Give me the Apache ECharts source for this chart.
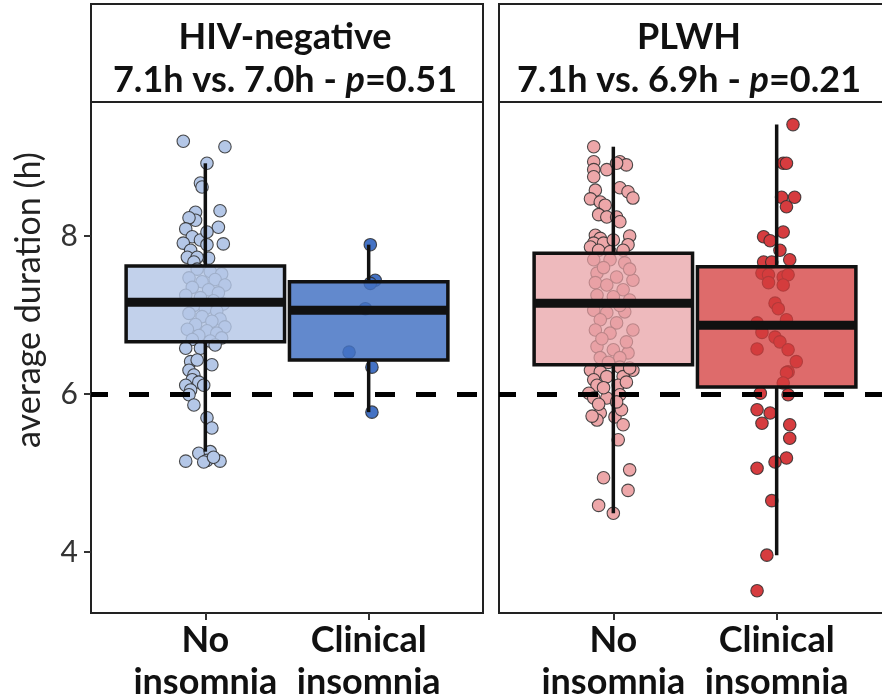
<!DOCTYPE html>
<html>
<head>
<meta charset="utf-8">
<script src="https://cdn.jsdelivr.net/npm/echarts@6/dist/echarts.min.js"></script>
<style>
  html, body { margin: 0; padding: 0; background: #ffffff; }
  #chart { width: 882px; height: 694px; }
</style>
</head>
<body>
<div id="chart"></div>
<script>
// ---- data ----------------------------------------------------------------
const categories = ['No\ninsomnia', 'Clinical\ninsomnia'];
const panelNames = ['HIV-negative', 'PLWH'];
const panelComparisons = [
  ['7.1h vs. 7.0h - ', 'p', '=0.51'],
  ['7.1h vs. 6.9h - ', 'p', '=0.21']
];
const yTickValues = [4, 6, 8];
const referenceHours = 6;

// box summaries: [lower whisker, Q1, median, Q3, upper whisker]
const boxNegNone     = [5.27, 6.66, 7.16, 7.62, 8.92];
const boxNegClinical = [5.77, 6.43, 7.06, 7.42, 7.89];
const boxPosNone     = [4.49, 6.37, 7.15, 7.78, 9.13];
const boxPosClinical = [3.96, 6.09, 6.87, 7.61, 9.41];

// individual average sleep durations (h) and their horizontal jitter (category units)
const negNoneHours = [9.20, 9.13, 8.92, 8.67, 8.62, 8.30, 8.32, 8.20, 8.23, 8.09, 8.11, 7.99, 7.95, 7.91, 8.05, 7.90, 7.89, 7.82, 7.73, 7.72, 7.73, 7.67,
  7.58, 7.55, 7.52, 7.47, 7.45, 7.42, 7.38, 7.35, 7.32, 7.28, 7.25, 7.22, 7.18, 7.14, 7.12, 7.08, 7.05, 7.02, 6.98, 6.95, 6.92, 6.88, 6.85, 6.82, 6.80, 6.77, 6.74, 6.71, 6.69, 6.67,
  6.58, 6.58, 6.62, 6.41, 6.43, 6.37, 6.30, 6.24, 6.18, 6.15, 6.11, 6.11, 6.05, 5.99, 5.86, 5.70, 5.57, 5.25, 5.27, 5.16, 5.15, 5.14, 5.20, 5.15];
const negNoneJitter = [-0.135, 0.12, 0.01, -0.03, -0.02, -0.06, 0.09, -0.06, -0.10, -0.12, 0.08, -0.08, -0.03, -0.135, 0.01, 0.11, 0.01, -0.09, -0.11, 0.02, -0.05, -0.07,
  -0.05, 0.03, 0.10, -0.10, 0.06, -0.02, 0.12, -0.08, 0.02, 0.08, -0.12, -0.03, 0.05, 0.11, -0.07, 0.00, 0.07, -0.10, -0.02, 0.09, 0.04, -0.06, 0.12, -0.11, 0.01, 0.07, -0.04, 0.10, -0.08, 0.03,
  -0.12, -0.03, 0.06, -0.09, -0.05, 0.04, -0.10, -0.07, -0.08, -0.04, -0.12, -0.01, -0.09, -0.10, -0.07, 0.01, 0.04, -0.04, 0.03, 0.01, 0.09, -0.01, 0.05, -0.12];

const negClinicalHours  = [7.89, 7.44, 7.40, 7.08, 6.53, 6.34, 5.77];
const negClinicalJitter = [0.01, 0.04, 0.01, -0.02, -0.12, 0.02, 0.02];

const posNoneHours = [9.13, 8.94, 8.84, 8.75, 8.84, 8.94, 8.90, 8.92, 8.58, 8.47, 8.61, 8.56, 8.48, 8.43, 8.39, 8.27, 8.24, 8.24, 8.18, 8.01, 7.97, 7.91, 7.91, 7.95, 8.00, 7.89, 7.86, 7.82, 7.82, 7.80,
  7.70, 7.70, 7.66, 7.53, 7.48, 7.44, 7.41, 7.38, 7.32, 7.25, 7.23, 7.19, 7.06, 7.03, 7.04, 6.94, 6.90, 6.81, 6.81, 6.77, 6.60, 6.56, 6.52, 6.46, 6.46, 7.60, 7.58, 7.12, 6.70, 6.66, 6.40,
  6.30, 6.28, 6.34, 6.30, 6.18, 6.22, 6.22, 6.11, 6.11, 6.01, 5.99, 5.95, 5.95, 6.33, 5.76, 5.67, 5.71, 5.61, 5.42, 5.04, 4.94, 4.78, 4.59, 4.49, 6.08, 6.15, 5.87, 5.80, 5.72, 5.90];
const posNoneJitter = [-0.12, -0.12, -0.12, -0.12, -0.04, 0.04, 0.08, 0.02, -0.11, -0.14, 0.04, 0.09, 0.12, -0.08, -0.05, -0.09, -0.04, 0.02, 0.04, -0.11, -0.08, -0.12, -0.06, 0.00, 0.10, 0.09, -0.14, 0.06, -0.09, -0.02,
  -0.12, -0.02, 0.07, -0.10, 0.02, 0.12, -0.11, -0.04, 0.06, -0.10, 0.00, 0.10, -0.12, -0.04, 0.07, -0.08, 0.02, 0.12, -0.11, -0.02, -0.10, 0.00, 0.09, -0.08, 0.04, -0.06, 0.10, 0.04, -0.07, 0.08, -0.03,
  -0.14, -0.08, 0.04, 0.12, -0.12, -0.04, 0.06, -0.10, 0.03, -0.15, 0.04, -0.04, -0.12, 0.10, -0.08, -0.10, 0.01, 0.06, 0.03, 0.10, -0.06, 0.09, -0.09, 0.00, -0.06, 0.08, -0.09, 0.05, -0.13, 0.02];

const posClinicalHours = [9.41, 8.92, 8.92, 8.49, 8.49, 8.37, 8.05, 7.99, 7.94, 7.82, 7.70, 7.67, 7.67, 7.53, 7.51, 7.48, 7.51, 7.41, 7.38, 7.15, 7.08, 6.90, 6.94,
  6.78, 6.72, 6.66, 6.56, 6.57, 6.41, 6.28, 6.27, 6.14, 6.01, 5.99, 5.80, 5.76, 5.63, 5.61, 5.44, 5.19, 5.14, 5.06, 4.65, 3.96, 3.51];
const posClinicalJitter = [0.10, 0.04, 0.06, 0.03, 0.11, 0.06, 0.04, -0.08, -0.04, 0.02, 0.08, -0.08, -0.03, -0.09, -0.05, 0.04, 0.07, -0.05, 0.04, -0.01, 0.01, -0.12, 0.06,
  -0.09, -0.01, 0.02, 0.07, -0.12, 0.12, 0.07, 0.06, 0.04, -0.10, 0.07, -0.12, -0.04, -0.09, 0.08, 0.08, 0.06, -0.01, -0.12, -0.03, -0.06, -0.12];

// ---- styling ---------------------------------------------------------------
const FONT = 'Lato, "Noto Sans", sans-serif';
const INK = '#111111';
const BOX_WIDTH = 0.97;          // in category units
const Y_MIN = 3.228, Y_MAX = 9.696;
const X_MIN = 0.3, X_MAX = 2.7;

const panels = [
  { left: 91,  groups: [
      { hours: negNoneHours, jitter: negNoneJitter, box: boxNegNone, point: '#b4c7e7', fill: 'rgba(180,199,231,0.82)' },
      { hours: negClinicalHours, jitter: negClinicalJitter, box: boxNegClinical, point: '#4472c4', fill: 'rgba(68,114,196,0.84)' }
  ]},
  { left: 499, groups: [
      { hours: posNoneHours, jitter: posNoneJitter, box: boxPosNone, point: '#eda7a9', fill: 'rgba(232,160,163,0.72)' },
      { hours: posClinicalHours, jitter: posClinicalJitter, box: boxPosClinical, point: '#d63c3f', fill: 'rgba(212,60,60,0.76)' }
  ]}
];
const PANEL_TOP = 102, PANEL_H = 511, PANEL_W = 392;

const grids = [], xAxes = [], yAxes = [], series = [], graphics = [];

panels.forEach(function (panel, p) {
  grids.push({
    left: panel.left, top: PANEL_TOP, width: PANEL_W, height: PANEL_H,
    containLabel: false, outerBoundsMode: 'none',
    show: true, borderColor: '#222', borderWidth: 2, backgroundColor: 'transparent'
  });
  xAxes.push({
    type: 'value', gridIndex: p, min: X_MIN, max: X_MAX,
    axisLine: { show: false },
    splitLine: { show: false },
    axisTick: { show: true, customValues: [1, 2], length: 7, lineStyle: { color: '#333', width: 2 } },
    axisLabel: {
      show: true, customValues: [1, 2], margin: 6,
      formatter: function (v) { return categories[Math.round(v) - 1]; },
      fontFamily: FONT, fontWeight: 'bold', fontSize: 36, lineHeight: 42, color: INK
    }
  });
  yAxes.push({
    type: 'value', gridIndex: p, min: Y_MIN, max: Y_MAX,
    axisLine: { show: false },
    splitLine: { show: false },
    axisTick: { show: p === 0, customValues: yTickValues, length: 7, lineStyle: { color: '#333', width: 2 } },
    axisLabel: {
      show: p === 0, customValues: yTickValues, margin: 13,
      fontFamily: FONT, fontSize: 30, color: '#333'
    }
  });

  // reference line at 6 h
  series.push({
    type: 'line', xAxisIndex: p, yAxisIndex: p, data: [], z: 1,
    markLine: {
      silent: true, symbol: 'none', label: { show: false },
      lineStyle: { type: [20, 21], dashOffset: 3, width: 5, color: '#000' },
      data: [{ yAxis: referenceHours }]
    }
  });

  // jittered individual points
  panel.groups.forEach(function (g, gi) {
    series.push({
      type: 'scatter', xAxisIndex: p, yAxisIndex: p, z: 2,
      symbol: 'circle', symbolSize: 12.5,
      itemStyle: { color: g.point, borderColor: 'rgba(45,45,45,0.85)', borderWidth: 1.1, opacity: 1 },
      data: g.hours.map(function (h, i) { return [gi + 1 + g.jitter[i], h]; })
    });
  });

  // boxes with whiskers and median bar
  series.push({
    type: 'custom', xAxisIndex: p, yAxisIndex: p, z: 3,
    data: panel.groups.map(function (g, gi) { return [gi + 1].concat(g.box); }),
    renderItem: function (params, api) {
      const x = api.value(0);
      const lo = api.coord([x, api.value(1)]);
      const q1 = api.coord([x, api.value(2)]);
      const md = api.coord([x, api.value(3)]);
      const q3 = api.coord([x, api.value(4)]);
      const hi = api.coord([x, api.value(5)]);
      const w = api.size([BOX_WIDTH, 0])[0];
      const fill = panel.groups[params.dataIndex].fill;
      return {
        type: 'group',
        children: [
          { type: 'line', shape: { x1: hi[0], y1: hi[1], x2: q3[0], y2: q3[1] },
            style: { stroke: INK, lineWidth: 3.5 } },
          { type: 'line', shape: { x1: q1[0], y1: q1[1], x2: lo[0], y2: lo[1] },
            style: { stroke: INK, lineWidth: 3.5 } },
          { type: 'rect', shape: { x: q3[0] - w / 2, y: q3[1], width: w, height: q1[1] - q3[1] },
            style: { fill: fill, stroke: INK, lineWidth: 3.5 } },
          { type: 'rect', shape: { x: md[0] - w / 2, y: md[1] - 4.5, width: w, height: 9 },
            style: { fill: INK } }
        ]
      };
    }
  });

  // facet header strip
  graphics.push({
    type: 'rect', z: 10,
    shape: { x: panel.left, y: 4, width: PANEL_W, height: PANEL_TOP - 4 },
    style: { fill: '#ffffff', stroke: '#222', lineWidth: 2 }
  });
  const cx = panel.left + PANEL_W / 2 - (p === 1 ? 6 : 2);
  graphics.push({
    type: 'text', z: 11, x: cx, y: 37,
    style: {
      text: panelNames[p], align: 'center', verticalAlign: 'middle',
      font: 'bold 36px ' + FONT, fill: INK
    }
  });
  const cmp = panelComparisons[p];
  graphics.push({
    type: 'text', z: 11, x: cx, y: 80,
    style: {
      text: '{b|' + cmp[0] + '}{i|' + cmp[1] + '}{b|' + cmp[2] + '}',
      align: 'center', verticalAlign: 'middle',
      rich: {
        b: { fontFamily: FONT, fontWeight: 'bold', fontSize: 36, fill: INK },
        i: { fontFamily: FONT, fontWeight: 'bold', fontStyle: 'italic', fontSize: 36, fill: INK }
      }
    }
  });
});

// y-axis title
graphics.push({
  type: 'text', z: 11, x: 29, y: 300, rotation: Math.PI / 2,
  style: {
    text: 'average duration (h)', align: 'center', verticalAlign: 'middle',
    font: '34px ' + FONT, fill: '#222'
  }
});

const chart = echarts.init(document.getElementById('chart'), null, { renderer: 'canvas' });
chart.setOption({
  animation: false,
  backgroundColor: '#ffffff',
  grid: grids,
  xAxis: xAxes,
  yAxis: yAxes,
  series: series,
  graphic: { elements: graphics }
});
</script>
</body>
</html>
